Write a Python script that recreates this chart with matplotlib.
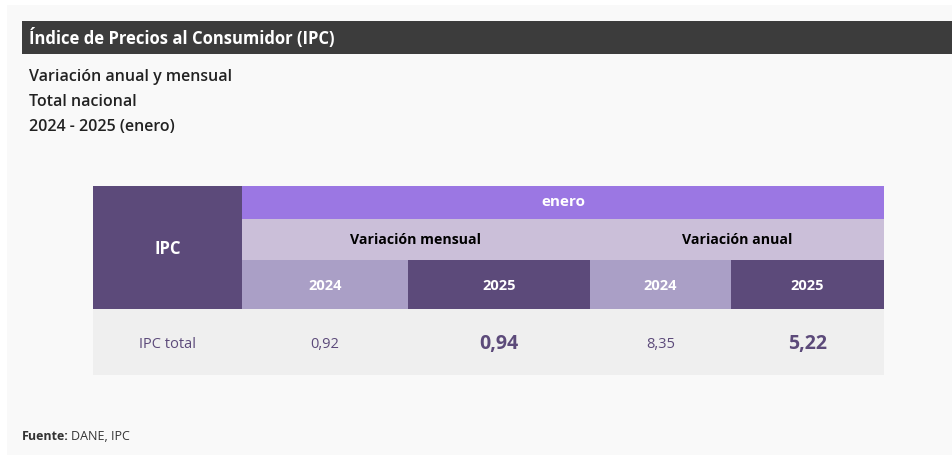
import matplotlib.pyplot as plt
from matplotlib.patches import Rectangle

plt.rcParams['font.family'] = ['Open Sans', 'DejaVu Sans']

# data
title = 'Índice de Precios al Consumidor (IPC)'
subtitle = ['Variación anual y mensual', 'Total nacional', '2024 - 2025 (enero)']
month = 'enero'
groups = ['Variación mensual', 'Variación anual']
years = ['2024', '2025']
row_label = 'IPC total'
mensual = [0.92, 0.94]
anual = [8.35, 5.22]
source = 'DANE, IPC'

DARK = '#5c4a7a'
BRIGHT = '#9b77e3'
LILAC = '#cbbfd9'
MID = '#aa9fc6'
ROWBG = '#efefef'

W, H = 953, 459
fig = plt.figure(figsize=(W / 100, H / 100), dpi=100)
ax = fig.add_axes([0, 0, 1, 1])
ax.set_xlim(0, W)
ax.set_ylim(H, 0)
ax.axis('off')
fig.patch.set_facecolor('white')

# panel + title bar
ax.add_patch(Rectangle((7, 5), W - 7, 450, color='#f9f9f9', lw=0))
ax.add_patch(Rectangle((22, 21), W - 22, 33, color='#3c3c3c', lw=0))
ax.text(29, 38, title, color='white', fontsize=12, fontweight='bold', va='center')
for i, s in enumerate(subtitle):
    ax.text(29, 77 + i * 25, s, color='#222222', fontsize=11.5, fontweight='semibold', va='center')


def fmt(v):
    return f'{v:.2f}'.replace('.', ',')


# table geometry
x0, x1 = 93, 884
col_edges = [242, 408, 590, 731, 884]
rows = [186, 219, 260, 309, 375]

ax.add_patch(Rectangle((x0, rows[0]), col_edges[0] - x0, rows[3] - rows[0], color=DARK, lw=0))
ax.text((x0 + col_edges[0]) / 2, (rows[0] + rows[3]) / 2 + 1, 'IPC', color='white',
        fontsize=12, fontweight='bold', ha='center', va='center')

ax.add_patch(Rectangle((col_edges[0], rows[0]), x1 - col_edges[0], rows[1] - rows[0], color=BRIGHT, lw=0))
ax.text((col_edges[0] + x1) / 2, (rows[0] + rows[1]) / 2, month, color='white',
        fontsize=11, fontweight='bold', ha='center', va='center')

ax.add_patch(Rectangle((col_edges[0], rows[1]), x1 - col_edges[0], rows[2] - rows[1], color=LILAC, lw=0))
for g, grp in enumerate(groups):
    gl, gr = col_edges[2 * g], col_edges[2 * g + 2]
    ax.text((gl + gr) / 2, (rows[1] + rows[2]) / 2 + 1, grp, color='black',
            fontsize=10.2, fontweight='bold', ha='center', va='center')

values = mensual + anual
ax.add_patch(Rectangle((x0, rows[3]), x1 - x0, rows[4] - rows[3], color=ROWBG, lw=0))
ax.text((x0 + col_edges[0]) / 2, (rows[3] + rows[4]) / 2 + 2, row_label, color=DARK,
        fontsize=10.5, ha='center', va='center')
for c in range(4):
    cl, cr = col_edges[c], col_edges[c + 1]
    yr = years[c % 2]
    ax.add_patch(Rectangle((cl, rows[2]), cr - cl, rows[3] - rows[2],
                           color=MID if yr == '2024' else DARK, lw=0))
    ax.text((cl + cr) / 2, (rows[2] + rows[3]) / 2 + 1, yr, color='white',
            fontsize=10.5, fontweight='bold', ha='center', va='center')
    latest = yr == years[-1]
    ax.text((cl + cr) / 2, (rows[3] + rows[4]) / 2 + 2, fmt(values[c]), color=DARK,
            fontsize=14 if latest else 10.5, fontweight='bold' if latest else 'normal',
            ha='center', va='center')

ax.text(22, 436, 'Fuente:', color='#333333', fontsize=9, fontweight='bold', va='center')
ax.text(71, 436, source, color='#333333', fontsize=9, va='center')

plt.savefig('out.png', dpi=100)
